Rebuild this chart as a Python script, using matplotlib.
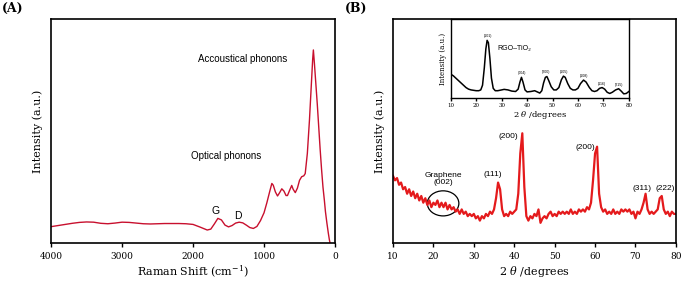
import numpy as np
import matplotlib
matplotlib.use("Agg")
import matplotlib.pyplot as plt
from matplotlib.patches import Ellipse

plt.rcParams['font.family'] = 'DejaVu Serif'
plt.rcParams['mathtext.fontset'] = 'dejavuserif'

# ---- panel A : Raman spectrum (intensity as fraction of axis height)
raman_shift = [4000, 3900, 3800, 3700, 3600, 3500, 3400, 3300, 3200, 3100,
               3000, 2900, 2800, 2700, 2600, 2500, 2400, 2300, 2200, 2100,
               2000, 1900, 1800, 1750, 1700, 1650, 1600, 1550, 1500, 1450,
               1400, 1350, 1300, 1250, 1200, 1150, 1100, 1050, 1000, 960,
               920, 890, 870, 840, 810, 780, 750, 720, 690, 670,
               640, 610, 590, 560, 530, 500, 470, 440, 420, 390,
               360, 330, 315, 305, 290, 270, 250, 230, 210, 190,
               170, 150, 135, 115, 95, 80, 70]
raman_int = [0.073, 0.078, 0.083, 0.088, 0.092, 0.094, 0.093, 0.088, 0.086, 0.089,
             0.093, 0.092, 0.089, 0.086, 0.085, 0.086, 0.087, 0.087, 0.087, 0.086,
             0.083, 0.071, 0.058, 0.062, 0.085, 0.110, 0.103, 0.080, 0.072, 0.078,
             0.089, 0.093, 0.090, 0.080, 0.069, 0.065, 0.074, 0.100, 0.135, 0.180,
             0.230, 0.266, 0.258, 0.228, 0.210, 0.225, 0.242, 0.232, 0.212, 0.212,
             0.235, 0.257, 0.240, 0.225, 0.245, 0.280, 0.296, 0.300, 0.310, 0.400,
             0.550, 0.730, 0.820, 0.862, 0.800, 0.710, 0.620, 0.520, 0.420, 0.330,
             0.250, 0.190, 0.140, 0.090, 0.045, 0.015, 0.0]

# ---- panel B : XRD pattern, 0.5 degree steps from 10 to 80
two_theta = np.arange(10, 80.01, 0.5)
xrd_int = [0.30, 0.28, 0.29, 0.26, 0.27, 0.24, 0.25, 0.22, 0.24, 0.21,
           0.23, 0.20, 0.22, 0.19, 0.21, 0.18, 0.20, 0.17, 0.19, 0.16,
           0.18, 0.17, 0.19, 0.16, 0.18, 0.16, 0.18, 0.15, 0.17, 0.15,
           0.16, 0.14, 0.15, 0.13, 0.15, 0.13, 0.14, 0.12, 0.13, 0.12,
           0.13, 0.11, 0.12, 0.10, 0.12, 0.11, 0.13, 0.12, 0.14, 0.13,
           0.15, 0.20, 0.27, 0.24, 0.15, 0.12, 0.13, 0.12, 0.14, 0.13,
           0.14, 0.15, 0.22, 0.40, 0.49, 0.25, 0.12, 0.10, 0.12, 0.11,
           0.13, 0.12, 0.15, 0.09, 0.11, 0.12, 0.11, 0.13, 0.14, 0.12,
           0.13, 0.12, 0.14, 0.13, 0.14, 0.13, 0.14, 0.13, 0.15, 0.13,
           0.14, 0.13, 0.15, 0.14, 0.15, 0.14, 0.16, 0.15, 0.18, 0.28,
           0.40, 0.43, 0.22, 0.16, 0.14, 0.15, 0.13, 0.14, 0.13, 0.15,
           0.13, 0.14, 0.13, 0.15, 0.14, 0.15, 0.14, 0.15, 0.13, 0.14,
           0.11, 0.14, 0.13, 0.15, 0.18, 0.22, 0.15, 0.13, 0.14, 0.13,
           0.14, 0.15, 0.20, 0.21, 0.15, 0.13, 0.14, 0.12, 0.14, 0.13,
           0.13]
xrd_peaks = ["(111)", "(200)", "(200)", "(311)", "(222)"]
xrd_peak_x = [34.7, 38.6, 57.5, 71.7, 77.3]
xrd_peak_y = [0.307, 0.475, 0.425, 0.244, 0.244]

# ---- inset : RGO-TiO2
inset_x = [10, 11, 12, 13, 14, 15, 16, 17, 18, 19, 20, 21, 21.8, 22.5, 23.2, 23.8,
           24.3, 24.8, 25.4, 26, 26.7, 27.5, 28.5, 30, 31, 32.5, 34, 35.5, 36.5, 37.2,
           37.8, 38.4, 39.2, 40, 41.5, 43, 44, 45, 45.8, 46.5, 47.2, 47.8, 48.5, 49.5,
           50.5, 51.5, 52.5, 53.5, 54.3, 55, 56, 57, 58, 59, 60, 61, 62.2, 63.2,
           64.5, 65.5, 66.5, 67.5, 68.5, 69.5, 70.5, 71.5, 72.5, 73.5, 74.8, 76, 77,
           78, 79, 80]
inset_y = [0.30, 0.28, 0.25, 0.22, 0.19, 0.16, 0.13, 0.11, 0.10, 0.095, 0.09, 0.09,
           0.10, 0.16, 0.38, 0.62, 0.73, 0.70, 0.50, 0.25, 0.12, 0.09, 0.09, 0.10,
           0.107, 0.10, 0.085, 0.08, 0.11, 0.20, 0.26, 0.20, 0.10, 0.075, 0.08, 0.09,
           0.075, 0.06, 0.09, 0.19, 0.26, 0.27, 0.22, 0.14, 0.10, 0.10, 0.13, 0.23,
           0.275, 0.26, 0.18, 0.12, 0.10, 0.10, 0.12, 0.18, 0.225, 0.20, 0.13, 0.09,
           0.08, 0.09, 0.12, 0.13, 0.11, 0.07, 0.055, 0.07, 0.10, 0.115, 0.085, 0.05,
           0.055, 0.08]
inset_peaks = ["(101)", "(004)", "(200)", "(105)", "(108)", "(116)", "(215)"]
inset_peak_x = [24.5, 37.8, 47.5, 54.5, 62.5, 69.5, 76]
inset_peak_y = [0.78, 0.31, 0.325, 0.325, 0.275, 0.175, 0.16]

fig = plt.figure(figsize=(6.85, 2.81), dpi=100)

def style(ax, lw=1.2):
    for s in ax.spines.values():
        s.set_linewidth(lw)
    ax.set_yticks([])
    ax.tick_params(axis='x', direction='out', length=3, width=1)

# panel A
axA = fig.add_axes([0.0745, 0.1352, 0.4146, 0.797])
axA.plot(raman_shift, raman_int, color='#c8102e', lw=1.0)
axA.set_xlim(4000, 0)
axA.set_ylim(0, 1)
axA.set_xticks([4000, 3000, 2000, 1000, 0])
style(axA)
axA.tick_params(labelsize=6.5)
axA.set_xlabel("Raman Shift (cm$^{\\mathregular{-1}}$)", fontsize=8, labelpad=2)
axA.set_ylabel("Intensity (a.u.)", fontsize=8, labelpad=6)
sans = 'Liberation Sans'
axA.text(1296, 0.82, "Accoustical phonons", family=sans, fontsize=7, ha='center', va='center')
axA.text(1535, 0.39, "Optical phonons", family=sans, fontsize=7, ha='center', va='center')
axA.text(1676, 0.143, "G", family=sans, fontsize=7.5, ha='center', va='center')
axA.text(1366, 0.121, "D", family=sans, fontsize=7.5, ha='center', va='center')
fig.text(0.003, 0.97, "(A)", fontsize=9, fontweight='bold', va='center')

# panel B
axB = fig.add_axes([0.5737, 0.1352, 0.413, 0.797])
axB.plot(two_theta, xrd_int, color='#e41a1c', lw=1.6)
axB.set_xlim(10, 80)
axB.set_ylim(0, 1)
axB.set_xticks(range(10, 81, 10))
style(axB)
axB.tick_params(labelsize=6.5)
axB.set_xlabel("2 $\\theta$ /degrees", fontsize=8, labelpad=2)
axB.set_ylabel("Intensity (a.u.)", fontsize=8, labelpad=6)
for lab, px, py in zip(xrd_peaks, xrd_peak_x, xrd_peak_y):
    axB.text(px, py, lab, family=sans, fontsize=6, ha='center', va='center')
axB.text(22.4, 0.286, "Graphene\n(002)", family=sans, fontsize=6, ha='center', va='center',
         linespacing=1.1)
axB.add_patch(Ellipse((22.4, 0.177), 7.8, 0.112, fill=False, ec='black', lw=0.9))
fig.text(0.503, 0.97, "(B)", fontsize=9, fontweight='bold', va='center')

# inset
axI = fig.add_axes([0.658, 0.652, 0.26, 0.28])
axI.plot(inset_x, inset_y, color='black', lw=1.1)
axI.set_xlim(10, 80)
axI.set_ylim(0, 1)
axI.set_xticks(range(10, 81, 10))
style(axI, lw=1.0)
axI.tick_params(labelsize=4, length=2, pad=1.5)
axI.set_xlabel("2 $\\theta$ /degrees", fontsize=6, labelpad=1)
axI.set_ylabel("Intensity (a.u.)", fontsize=5, labelpad=3)
for lab, px, py in zip(inset_peaks, inset_peak_x, inset_peak_y):
    axI.text(px, py, lab, family=sans, fontsize=2.6, ha='center', va='center')
axI.text(28.5, 0.63, "RGO\u2013TiO\u2082", family=sans, fontsize=5, ha='left', va='center')

fig.savefig("out.png", dpi=100)
